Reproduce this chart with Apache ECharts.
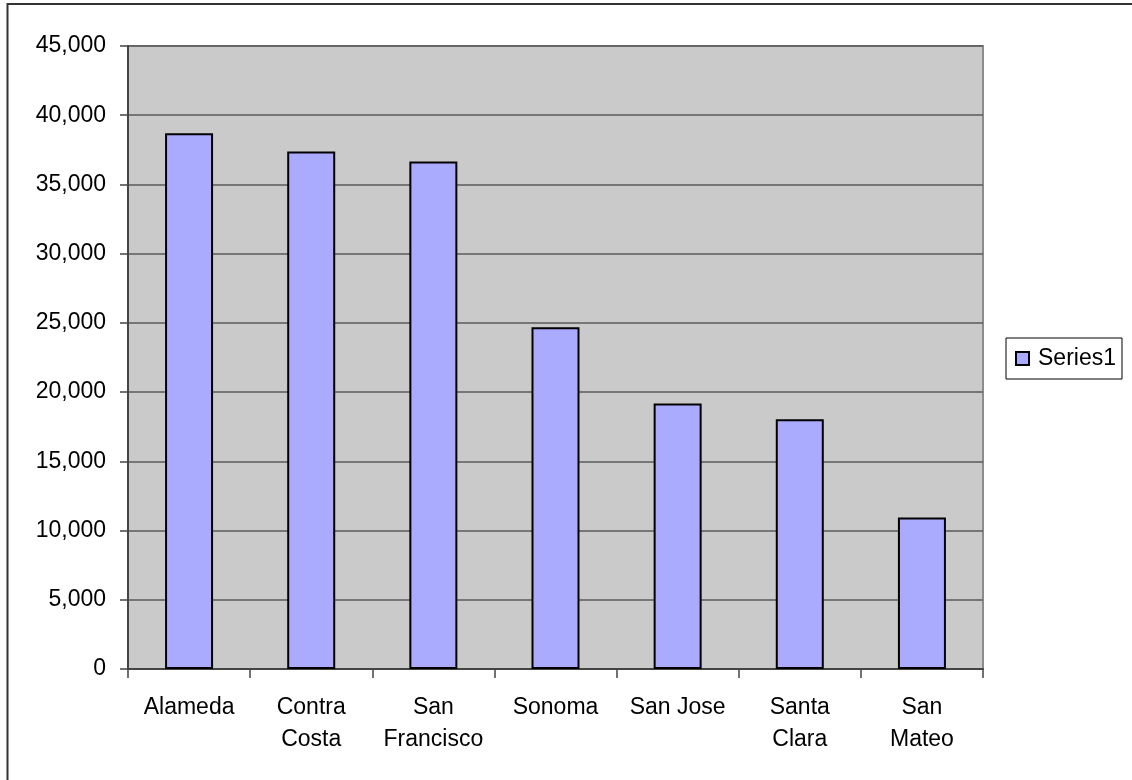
<!DOCTYPE html>
<html>
<head>
<meta charset="utf-8">
<script src="https://cdn.jsdelivr.net/npm/echarts@6/dist/echarts.min.js"></script>
<style>
  html, body { margin: 0; padding: 0; background: #ffffff; }
  #chart { width: 1132px; height: 780px; }
</style>
</head>
<body>
<div id="chart"></div>
<script>
// County names (line breaks as shown under the axis)
const counties = ['Alameda', 'Contra\nCosta', 'San\nFrancisco', 'Sonoma', 'San Jose', 'Santa\nClara', 'San\nMateo'];
// Series1 values per county
const series1 = [38700, 37380, 36650, 24690, 19180, 18040, 10940];
// Value axis range
const yMin = 0;
const yMax = 45000;
const yStep = 5000;

const FONT = '"Liberation Sans", Arial, sans-serif';

const chart = echarts.init(document.getElementById('chart'), null, { renderer: 'canvas' });

chart.setOption({
  backgroundColor: '#ffffff',
  animation: false,
  graphic: [{
    type: 'rect',
    shape: { x: 7.5, y: 4, width: 1200, height: 900 },
    style: { fill: 'none', stroke: '#333333', lineWidth: 2 },
    silent: true,
    z: 100
  }],
  grid: {
    left: 128,
    top: 46,
    right: 149,
    bottom: 111,
    show: true,
    backgroundColor: '#cacaca',
    borderColor: '#8c8c8c',
    borderWidth: 2
  },
  legend: {
    show: true,
    data: ['Series1'],
    orient: 'vertical',
    left: 1006,
    top: 338,
    padding: [9, 6, 9, 9],
    backgroundColor: '#ffffff',
    borderColor: '#000000',
    borderWidth: 1,
    borderRadius: 0,
    itemWidth: 13,
    itemHeight: 13,
    icon: 'rect',
    textStyle: { fontFamily: FONT, fontSize: 23, color: '#000000', padding: [0, 0, 0, 4] }
  },
  xAxis: {
    type: 'category',
    data: counties,
    boundaryGap: true,
    axisLine: { show: true, lineStyle: { color: '#444444', width: 2 } },
    axisTick: { show: true, alignWithLabel: false, length: 9, lineStyle: { color: '#444444', width: 1.5 } },
    axisLabel: {
      interval: 0,
      margin: 23,
      fontFamily: FONT,
      fontSize: 23,
      lineHeight: 32,
      color: '#000000'
    },
    splitLine: { show: false }
  },
  yAxis: {
    type: 'value',
    min: yMin,
    max: yMax,
    interval: yStep,
    axisLine: { show: true, lineStyle: { color: '#444444', width: 2 } },
    axisTick: { show: true, length: 8, lineStyle: { color: '#444444', width: 1.5 } },
    axisLabel: {
      margin: 22,
      fontFamily: FONT,
      fontSize: 23,
      color: '#000000',
      formatter: v => v.toLocaleString('en-US')
    },
    splitLine: { show: true, lineStyle: { color: '#5a5a5a', width: 1.5 } }
  },
  series: [{
    name: 'Series1',
    type: 'bar',
    data: series1,
    barWidth: 48,
    itemStyle: { color: '#aaaaff', borderColor: '#000000', borderWidth: 2 }
  }]
});
</script>
</body>
</html>
